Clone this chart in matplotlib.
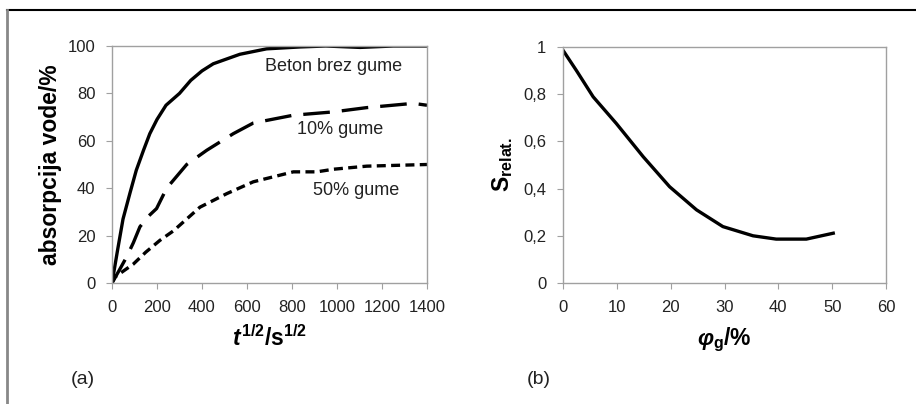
import matplotlib
matplotlib.use('Agg')
import matplotlib.pyplot as plt
from matplotlib.lines import Line2D

plt.rcParams['font.family'] = ['Liberation Sans', 'DejaVu Sans']
plt.rcParams['mathtext.fontset'] = 'custom'
plt.rcParams['mathtext.rm'] = 'Liberation Sans:bold'
plt.rcParams['mathtext.bf'] = 'Liberation Sans:bold'
plt.rcParams['mathtext.it'] = 'Liberation Sans:bold:italic'

# (a) absorpcija vode - krivulje odcitane s slike
x_beton = [0, 25, 49, 80, 108, 140, 168, 200, 240, 300, 350, 400, 450, 500, 568, 687, 836, 950, 1103, 1250, 1400]
y_beton = [0, 14, 27, 38, 47.6, 56, 63, 69, 75, 80, 85.5, 89.5, 92.5, 94.2, 96.5, 98.8, 99.6, 100, 99.4, 100, 100]

x_10 = [0, 30, 65, 95, 124, 160, 198, 243, 332, 421, 539, 628, 806, 984, 1132, 1339, 1400]
y_10 = [0, 5, 11, 17, 23.7, 28, 31.4, 40, 50, 56, 63, 67.5, 70.8, 72.2, 74, 75.8, 75]

x_50 = [0, 13, 50, 95, 150, 213, 273, 391, 510, 628, 806, 910, 984, 1132, 1400]
y_50 = [0, 2.5, 5, 8, 13, 18, 22, 32, 37.7, 42.7, 46.9, 46.9, 48, 49.3, 50]

# (b) relativna vrednost S
phi_g = [0, 2.5, 5.6, 9.9, 14.9, 19.8, 24.8, 29.7, 35.3, 39.6, 45.2, 50.2]
s_rel = [0.986, 0.90, 0.789, 0.676, 0.535, 0.408, 0.31, 0.239, 0.2, 0.186, 0.186, 0.211]

xticks_a = [0, 200, 400, 600, 800, 1000, 1200, 1400]
yticks_a = [0, 20, 40, 60, 80, 100]
xticks_b = [0, 10, 20, 30, 40, 50, 60]
yticks_b = [0, 0.2, 0.4, 0.6, 0.8, 1]
ylabels_b = ['0', '0,2', '0,4', '0,6', '0,8', '1']

fig = plt.figure(figsize=(9.16, 4.04), dpi=100)

# okvir slike (zgornja crta in leva siva crta)
fig.add_artist(Line2D([7/916, 915/916], [1-10/404, 1-10/404], color='black', lw=1.5))
fig.add_artist(Line2D([7/916, 7/916], [1-10/404, 0], color='#888888', lw=2))

frame_col = '#a0a0a0'
txt_col = '#222222'
lw = 2.4

def style(ax):
    for s in ax.spines.values():
        s.set_color(frame_col)
        s.set_linewidth(1.0)
    ax.tick_params(direction='out', color=frame_col, length=4, labelsize=12, labelcolor=txt_col, pad=8)

ax1 = fig.add_axes([112/916, 1-283/404, 315/916, 237/404])
ax1.plot(x_beton, y_beton, color='black', lw=lw)
ax1.plot(x_10, y_10, color='black', lw=lw, linestyle=(0, (8.0, 3.6)))
ax1.plot(x_50, y_50, color='black', lw=lw, linestyle=(0, (2.7, 1.6)))
ax1.set_xlim(0, 1400)
ax1.set_ylim(0, 100)
ax1.set_xticks(xticks_a)
ax1.set_yticks(yticks_a)
style(ax1)
ax1.text(984, 91.3, 'Beton brez gume', ha='center', va='center', fontsize=13, color=txt_col)
ax1.text(1013, 64.8, '10% gume', ha='center', va='center', fontsize=13, color=txt_col)
ax1.text(1087, 38.9, '50% gume', ha='center', va='center', fontsize=13, color=txt_col)
ax1.set_ylabel('absorpcija vode/%', fontsize=16.5, fontweight='bold', labelpad=4)
ax1.set_xlabel(r'$\mathit{t}^{\mathrm{1/2}}\mathrm{/s}^{\mathrm{1/2}}$', fontsize=16.5, labelpad=8)

ax2 = fig.add_axes([563/916, 1-283/404, 323/916, 236/404])
ax2.plot(phi_g, s_rel, color='black', lw=lw)
ax2.set_xlim(0, 60)
ax2.set_ylim(0, 1)
ax2.set_xticks(xticks_b)
ax2.set_yticks(yticks_b)
ax2.set_yticklabels(ylabels_b)
style(ax2)
ax2.set_ylabel(r'$\mathrm{S}_{\mathrm{relat.}}$', fontsize=16.5, labelpad=6)
ax2.set_xlabel(r'$\mathit{φ}_{\mathrm{g}}\mathrm{/\%}$', fontsize=16.5, labelpad=8)

fig.text(83/916, 1-380/404, '(a)', fontsize=14, ha='center', va='center', color=txt_col)
fig.text(539/916, 1-380/404, '(b)', fontsize=14, ha='center', va='center', color=txt_col)

fig.savefig('out.png', dpi=100)
